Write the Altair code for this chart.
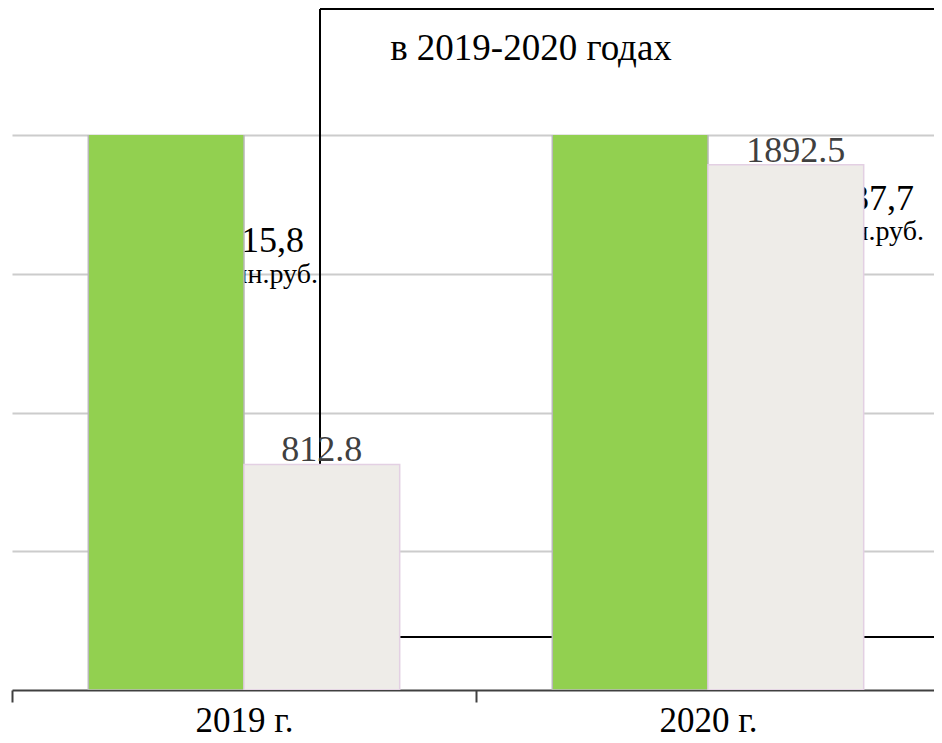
import altair as alt
import pandas as pd

# ---- data ----
years = ["2019 г.", "2020 г."]
series = ["s1", "s2"]
green_values = [2115.8, 2237.7]   # bars clipped at the axis maximum (2000)
gray_values = [812.8, 1892.5]
label_values = ["2115,8", "2237,7"]
label_units = ["млн.руб.", "млн.руб."]
grid_values = [500, 1000, 1500, 2000]
title_text = "в 2019-2020 годах"

rows = []
for i, yr in enumerate(years):
    rows.append({"year": yr, "series": series[0], "value": green_values[i]})
    rows.append({"year": yr, "series": series[1], "value": gray_values[i]})
df = pd.DataFrame(rows)
df_lab = pd.DataFrame({"year": years, "lv": label_values, "lu": label_units})
df_one = pd.DataFrame({"t": [title_text]})

FONT = "Liberation Serif, Times New Roman, Tinos, DejaVu Serif, Noto Serif, serif"

PLOT_W = 922

x_enc = alt.X(
    "year:N",
    sort=years,
    scale=alt.Scale(paddingInner=0, paddingOuter=0, range=[0, 928]),
    axis=alt.Axis(
        title=None, labelFont=FONT, labelFontSize=35, labelColor="black",
        labelAngle=0, labelAlign="center", domainColor="#404040", domainWidth=2,
        tickColor="#404040", tickWidth=2, tickSize=12, tickBand="extent",
        labelPadding=29, labelBaseline="alphabetic", grid=False,
    ),
)
xoff_enc = alt.XOffset(
    "series:N", sort=series,
    scale=alt.Scale(domain=series, paddingInner=0, paddingOuter=0.49),
)
y_enc = alt.Y(
    "value:Q",
    scale=alt.Scale(domain=[0, 2000]),
    axis=alt.Axis(
        title=None, values=grid_values, labels=False, ticks=False,
        domain=False, grid=True, gridColor="#cccccc", gridWidth=2,
    ),
)

# bracket / callout frame (behind bars)
frame_v = alt.Chart(df_one).mark_rule(color="black", strokeWidth=2).encode(
    x=alt.value(308), y=alt.value(-126), y2=alt.value(502)
)
frame_top = alt.Chart(df_one).mark_rule(color="black", strokeWidth=2).encode(
    x=alt.value(308), x2=alt.value(PLOT_W + 4), y=alt.value(-126)
)
frame_bot = alt.Chart(df_one).mark_rule(color="black", strokeWidth=2).encode(
    x=alt.value(308), x2=alt.value(PLOT_W + 4), y=alt.value(502)
)

title = alt.Chart(df_one).mark_text(
    font=FONT, fontSize=37, color="black", align="center", baseline="alphabetic"
).encode(x=alt.value(519), y=alt.value(-75), text="t:N")

# amount labels (partially hidden behind bars)
lab_base = alt.Chart(df_lab)
lab1_v = lab_base.transform_filter(alt.datum.year == years[0]).mark_text(
    font=FONT, fontSize=36, color="black", align="right", baseline="alphabetic", dx=60
).encode(x=alt.X("year:N", sort=years), y=alt.value(117), text="lv:N")
lab1_u = lab_base.transform_filter(alt.datum.year == years[0]).mark_text(
    font=FONT, fontSize=28, color="black", align="right", baseline="alphabetic", dx=74
).encode(x=alt.X("year:N", sort=years), y=alt.value(148), text="lu:N")
lab2_v = lab_base.transform_filter(alt.datum.year == years[1]).mark_text(
    font=FONT, fontSize=36, color="black", align="right", baseline="alphabetic", dx=206
).encode(x=alt.X("year:N", sort=years), y=alt.value(75), text="lv:N")
lab2_u = lab_base.transform_filter(alt.datum.year == years[1]).mark_text(
    font=FONT, fontSize=28, color="black", align="right", baseline="alphabetic", dx=216
).encode(x=alt.X("year:N", sort=years), y=alt.value(105), text="lu:N")

bars = alt.Chart(df).mark_bar(clip=True, strokeWidth=1.5).encode(
    x=x_enc,
    xOffset=xoff_enc,
    y=y_enc,
    color=alt.Color("series:N", scale=alt.Scale(domain=series, range=["#92d050", "#eeece8"]), legend=None),
    stroke=alt.Stroke("series:N", scale=alt.Scale(domain=series, range=["#b8b8b8", "#e3d0e3"]), legend=None),
)

val_base = alt.Chart(df).transform_filter(alt.datum.series == series[1])
val_enc = dict(
    x=alt.X("year:N", sort=years),
    xOffset=alt.XOffset("series:N", sort=series),
    y=alt.Y("value:Q"),
    text=alt.Text("value:Q", format=".1f"),
)
values1 = val_base.transform_filter(alt.datum.year == years[0]).mark_text(
    font=FONT, fontSize=36, color="#404040", align="center", baseline="alphabetic", dy=-3
).encode(**val_enc)
values2 = val_base.transform_filter(alt.datum.year == years[1]).mark_text(
    font=FONT, fontSize=36, color="#404040", align="center", baseline="alphabetic", dy=-3, dx=10
).encode(**val_enc)

chart = alt.layer(
    frame_v, frame_top, frame_bot, title,
    lab1_v, lab1_u, lab2_v, lab2_u,
    bars, values1, values2,
).properties(
    width=PLOT_W, height=555,
    autosize=alt.AutoSizeParams(type="none"),
    padding={"left": 4, "top": 127, "right": 0, "bottom": 62},
).configure_view(stroke=None)

chart.save("out.html", embed_options={"renderer": "svg", "actions": False})
